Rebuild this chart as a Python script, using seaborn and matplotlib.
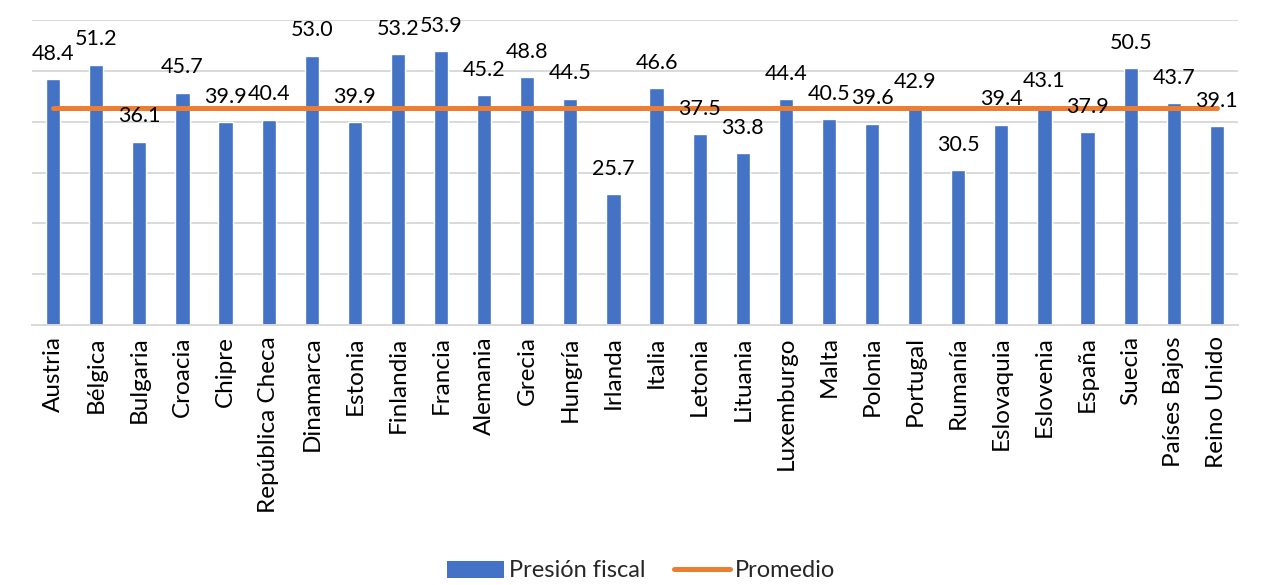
import numpy as np
import pandas as pd
import matplotlib
matplotlib.use('Agg')
import matplotlib.pyplot as plt
import seaborn as sns
from matplotlib.patches import Patch
from matplotlib.lines import Line2D


paises = ['Austria', 'Bélgica', 'Bulgaria', 'Croacia', 'Chipre', 'República Checa',
          'Dinamarca', 'Estonia', 'Finlandia', 'Francia', 'Alemania', 'Grecia',
          'Hungría', 'Irlanda', 'Italia', 'Letonia', 'Lituania', 'Luxemburgo',
          'Malta', 'Polonia', 'Portugal', 'Rumanía', 'Eslovaquia', 'Eslovenia',
          'España', 'Suecia', 'Países Bajos', 'Reino Unido']
presion_fiscal = [48.4, 51.2, 36.1, 45.7, 39.9, 40.4, 53.0, 39.9, 53.2, 53.9, 45.2, 48.8,
                  44.5, 25.7, 46.6, 37.5, 33.8, 44.4, 40.5, 39.6, 42.9, 30.5, 39.4, 43.1,
                  37.9, 50.5, 43.7, 39.1]
promedio = [42.7] * len(paises)

df = pd.DataFrame({'Pais': paises, 'Presion': presion_fiscal, 'Promedio': promedio})

azul = '#4472C4'
naranja = '#ED7D31'

sns.set_style('white')
plt.rcParams['font.family'] = ['Lato', 'DejaVu Sans']

fig = plt.figure(figsize=(12.65, 5.85), dpi=100)
ax = fig.add_axes([0.025, 0.444, 0.954, 0.522])

sns.barplot(data=df, x='Pais', y='Presion', color=azul, width=0.33, ax=ax,
            saturation=1, zorder=2)
sns.lineplot(data=df, x='Pais', y='Promedio', color=naranja, linewidth=3.6,
             sort=False, ax=ax, zorder=3, solid_capstyle='round')

for i, v in enumerate(presion_fiscal):
    ax.annotate(f'{v:.1f}', (i, v), xytext=(0, 11), textcoords='offset points',
                ha='center', va='bottom', fontsize=15.5, color='#000000',
                annotation_clip=False, zorder=4)

ax.set_ylim(0, 60)
ax.set_xlim(-0.5, len(paises) - 0.5)
ax.set_yticks(np.arange(0, 61, 10))
ax.set_yticklabels([])
ax.tick_params(axis='y', length=0)
ax.tick_params(axis='x', length=0, pad=8)
ax.grid(axis='y', color='#D9D9D9', linewidth=1.4, zorder=0)
ax.set_axisbelow(True)
for s in ['top', 'right', 'left']:
    ax.spines[s].set_visible(False)
ax.spines['bottom'].set_color('#D9D9D9')
ax.spines['bottom'].set_linewidth(1.4)
plt.setp(ax.get_xticklabels(), rotation=90, fontsize=17.5, color='#000000')
ax.set_xlabel('')
ax.set_ylabel('')

handles = [Patch(facecolor=azul, edgecolor='none'),
           Line2D([0], [0], color=naranja, linewidth=3.6, solid_capstyle='round')]
fig.legend(handles, ['Presión fiscal', 'Promedio'], loc='center',
           bbox_to_anchor=(0.507, 0.024), ncol=2, frameon=False, fontsize=17,
           handlelength=2.4, handleheight=0.75, handletextpad=0.2, columnspacing=1.2)

fig.savefig('out.png', dpi=100, facecolor='white')
